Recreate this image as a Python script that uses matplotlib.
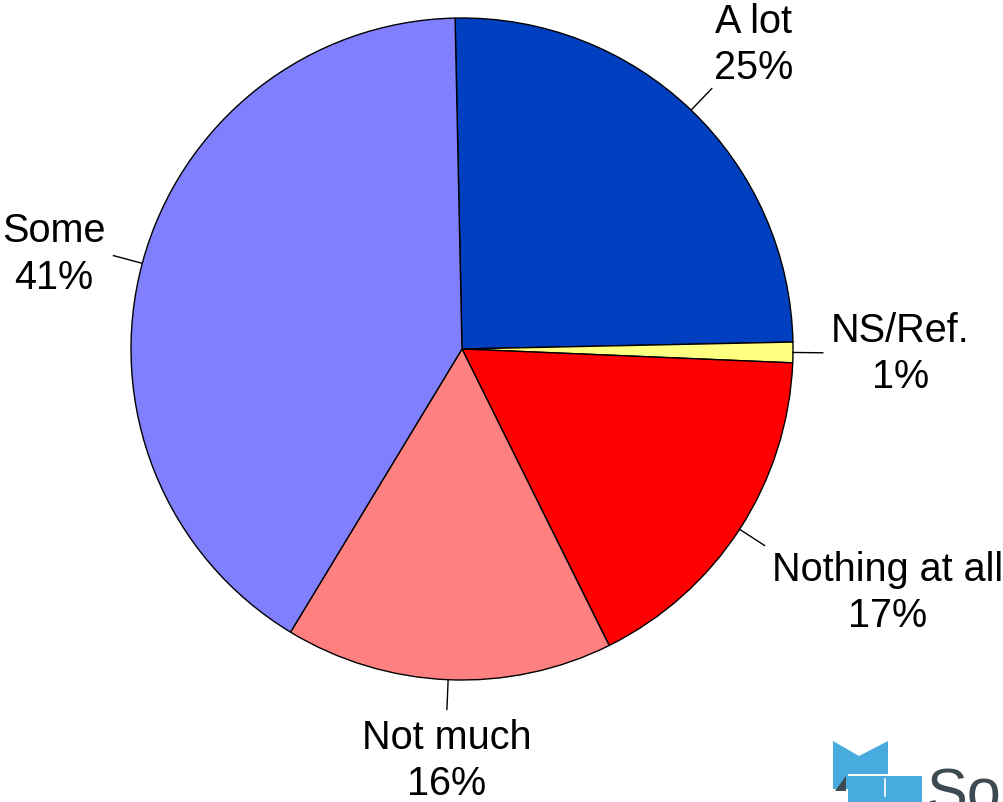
import numpy as np
import matplotlib
matplotlib.use("Agg")
import matplotlib.pyplot as plt
from matplotlib.patches import Polygon, Rectangle

plt.rcParams['font.family'] = ['Liberation Sans', 'DejaVu Sans']

# data (clockwise from the top)
categories = ["A lot", "NS/Ref.", "Nothing at all", "Not much", "Some"]
shares = [25.0, 1.0, 17.0, 16.0, 41.0]
colors = ["#0040C0", "#FFFF80", "#FF0000", "#FF8080", "#8080FF"]

W, H = 1004, 803
fig = plt.figure(figsize=(W / 100, H / 100), dpi=100)
ax = fig.add_axes([0, 0, 1, 1])

cx, cy, R = 462, H - 350, 331

wedges, _ = ax.pie(shares, colors=colors, startangle=91.2, counterclock=False,
                   center=(cx, cy), radius=R,
                   wedgeprops=dict(edgecolor="black", linewidth=1.0))

# labels outside, with short leader lines
for w, cat, v in zip(wedges, categories, shares):
    mid = np.deg2rad((w.theta1 + w.theta2) / 2)
    c, s = np.cos(mid), np.sin(mid)
    ax.plot([cx + R * c, cx + 1.09 * R * c], [cy + R * s, cy + 1.09 * R * s],
            color="black", lw=1.0)
    r_txt = 1.1 if s > 0.4 else 1.115
    tx, ty = cx + r_txt * R * c, cy + r_txt * R * s
    ha = "left" if c > 0.3 else ("right" if c < -0.3 else "center")
    va = "bottom" if s > 0.4 else ("top" if s < -0.4 else "center")
    ax.text(tx, ty, f"{cat}\n{v:.0f}%", ha=ha, va=va, multialignment="center",
            fontsize=28.5, linespacing=1.27, color="black")

# logo fragment bottom right
blue = "#47ABDE"
ax.add_patch(Polygon([(833, H - 742), (859, H - 757), (888, H - 742), (888, H - 775),
                      (848, H - 775), (848, H - 790), (833, H - 790)],
                     closed=True, facecolor=blue, edgecolor="none"))
ax.add_patch(Rectangle((848, 0), 74, H - 777, facecolor=blue, edgecolor="none"))
ax.add_patch(Polygon([(835, H - 792), (846, H - 777), (846, H - 792)],
                     closed=True, facecolor="#3E4A52", edgecolor="none"))
ax.plot([885, 885], [H - 780, H - 797], color="white", lw=1.2)
ax.text(926, H - 768, "So", ha="left", va="top", fontsize=44, color="#3E4A52")

ax.set_xlim(0, W)
ax.set_ylim(0, H)
ax.set_aspect("equal")
ax.axis("off")

fig.savefig("out.png", dpi=100, facecolor="white")
